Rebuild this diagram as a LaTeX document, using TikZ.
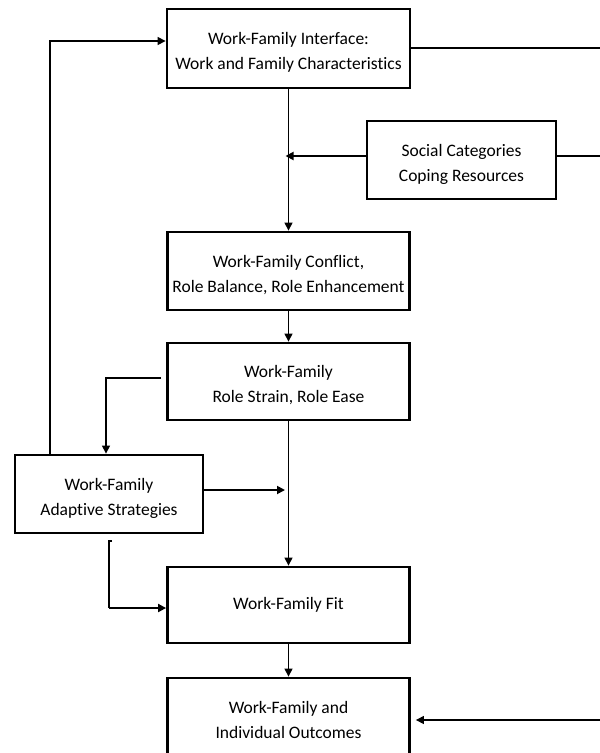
\documentclass[tikz,border=0pt]{standalone}
\usepackage{fontspec}
\setmainfont{Carlito}[Ligatures=NoCommon]
\usetikzlibrary{arrows.meta,calc}
\begin{document}
\begin{tikzpicture}[x=1pt,y=-1pt,
  box/.style={draw, line width=2.8pt, inner sep=0pt},
  boxtext/.style={align=center, inner sep=0pt,
    font=\fontsize{17.5}{25}\selectfont},
  lowtext/.style={boxtext, yshift=-4pt},
  link/.style={line width=1.8pt},
  thinlink/.style={line width=1.2pt},
  tip/.style={-{Triangle[length=8pt,width=8pt]}}
]
\useasboundingbox (0,0) rectangle (600,753);

% boxes
\node[box, minimum width=243pt, minimum height=79pt,
  label={[lowtext]center:{Work-Family Interface:\\Work and Family Characteristics}}]
  (iface) at (288.5,48.5) {};
\node[box, minimum width=189pt, minimum height=78pt,
  label={[lowtext]center:{Social Categories\\Coping Resources}}]
  (social) at (461.5,160) {};
\node[box, minimum width=242pt, minimum height=78pt,
  label={[lowtext]center:{Work-Family Conflict,\\Role Balance, Role Enhancement}}]
  (conflict) at (288.5,271) {};
\node[box, minimum width=242pt, minimum height=77pt,
  label={[lowtext]center:{Work-Family\\Role Strain, Role Ease}}]
  (strain) at (288.5,381.5) {};
\node[box, minimum width=188pt, minimum height=78pt,
  label={[lowtext]center:{Work-Family\\Adaptive Strategies}}]
  (strat) at (109,494) {};
\node[box, minimum width=242pt, minimum height=76pt,
  label={[boxtext]center:{Work-Family Fit}}]
  (fit) at (288.5,605) {};
\node[box, minimum width=242pt, minimum height=84pt,
  label={[boxtext]center:{Work-Family and\\Individual Outcomes}}]
  (outcome) at (288.5,720) {};

% helper points
\coordinate (edgeA) at (600,48);
\coordinate (edgeB) at (600,156);
\coordinate (edgeC) at (600,720);
\coordinate (fbturn) at (50,41);
\coordinate (dropA) at (106,378);
\coordinate (tickA) at (112,541);
\coordinate (tickB) at (109,541);
\coordinate (dropB) at (109,608);
\coordinate (joinB) at (288,490);

% main chain
\draw[thinlink,tip] (iface.south) -- (conflict.north);
\draw[thinlink,tip] (conflict.south) -- (strain.north);
\draw[thinlink,tip] (strain.south) -- (fit.north);
\draw[thinlink,tip] (fit.south) -- (outcome.north);

% lines running off to the right
\draw[link] (iface.east |- edgeA) -- (edgeA);
\draw[link] (social.east |- edgeB) -- (edgeB);
\draw[thinlink,tip,shorten >=5pt] (edgeC) -- (outcome.east |- edgeC);

% moderator into main chain
\draw[link,tip,shorten >=-3pt] (social.west |- edgeB) -- (iface.south |- edgeB);

% feedback from strategies to interface
\draw[thinlink,tip] (strat.north -| fbturn) -- (fbturn) -- (iface.west |- fbturn);

% strain to strategies
\draw[thinlink,tip] ([xshift=-5pt]strain.west |- dropA) -- (dropA) -- (strat.north -| dropA);

% strategies into main chain and into fit
\draw[link,tip,shorten >=3pt] (strat.east |- joinB) -- (joinB);
\draw[thinlink] (tickA) -- (tickB) -- (dropB);
\draw[link,tip] (dropB) -- (fit.west |- dropB);
\end{tikzpicture}
\end{document}
